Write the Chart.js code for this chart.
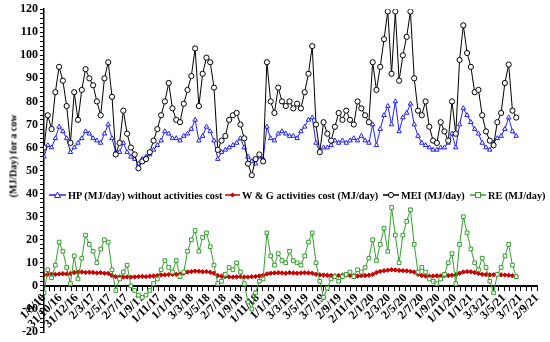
<!DOCTYPE html>
<html>
<head>
<meta charset="utf-8">
<script src="https://cdn.jsdelivr.net/npm/chart.js@4.4.1/dist/chart.umd.min.js"></script>
<style>
  body { margin: 0; background: #fff; }
  #wrap { position: relative; width: 550px; height: 342px; }
  .ytitle {
    position: absolute; left: 13px; top: 156px;
    transform: translate(-50%, -50%) rotate(-90deg);
    font: bold 10px "Liberation Serif", serif; white-space: nowrap; color: #000;
  }
  .leg {
    position: absolute; top: 189px; height: 12px;
    display: flex; align-items: center; gap: 2px;
    font: bold 10.3px "Liberation Serif", serif; white-space: nowrap; color: #000;
  }
  .leg svg { display: block; }
</style>
</head>
<body>
<div id="wrap">
  <canvas id="chart"></canvas>
  <div class="ytitle">(MJ/Day) for a cow</div>
  <div class="leg" style="left:49px">
    <svg width="17" height="8"><line x1="0" y1="4" x2="17" y2="4" stroke="#1f1fff" stroke-width="1.5"/><polygon points="8.5,1 11.5,6.5 5.5,6.5" fill="#fff" stroke="#1f1fff"/></svg>
    <span>HP (MJ/day) without activities cost</span>
  </div>
  <div class="leg" style="left:225px">
    <svg width="15" height="8"><line x1="0" y1="4" x2="15" y2="4" stroke="#cc0000" stroke-width="1.5"/><polygon points="7.5,1.5 10,4 7.5,6.5 5,4" fill="#cc0000"/></svg>
    <span>W &amp; G activities cost (MJ/day)</span>
  </div>
  <div class="leg" style="left:383px">
    <svg width="16" height="8"><line x1="0" y1="4" x2="16" y2="4" stroke="#000" stroke-width="1.5"/><circle cx="8" cy="4" r="2.6" fill="#fff" stroke="#000"/></svg>
    <span>MEI (MJ/day)</span>
  </div>
  <div class="leg" style="left:470px">
    <svg width="16" height="8"><line x1="0" y1="4" x2="16" y2="4" stroke="#33a02c" stroke-width="1.5"/><rect x="5.5" y="1.5" width="5" height="5" fill="#fff" stroke="#33a02c"/></svg>
    <span>RE (MJ/day)</span>
  </div>
</div>
<script>
// samples every 14 days starting 1/9/16
const STEP_DAYS = 14;

const hp = [56, 61, 60, 64, 69, 67, 64, 58, 60, 62,
  64, 67, 66, 64, 63, 62, 66, 70, 64, 58,
  58, 62, 58, 56, 55, 53, 55, 56, 57, 59,
  61, 63, 67, 66, 64, 64, 63, 65, 66, 68,
  72, 63, 65, 69, 67, 63, 55, 58, 59, 60,
  61, 62, 64, 60, 56, 54, 53, 56, 55, 69,
  64, 63, 66, 67, 66, 65, 65, 64, 67, 69,
  72, 73, 62, 58, 60, 60, 61, 63, 62, 63,
  62, 63, 64, 63, 65, 63, 62, 70, 61, 68,
  74, 78, 70, 80, 67, 73, 75, 79, 70, 65,
  62, 61, 60, 59, 59, 60, 60, 62, 66, 60,
  70, 77, 74, 71, 68, 66, 62, 60, 59, 62,
  64, 65, 68, 73, 67, 65];

const wg = [4.8, 5.0, 5.1, 5.0, 5.2, 5.3, 5.2, 5.4,
  5.8, 5.9, 6.0, 5.8, 5.9, 5.8, 5.6, 5.7, 5.5, 5.4,
  4.5, 4.0, 3.9, 3.8, 3.9, 3.8, 3.9, 4.0, 4.1, 4.0, 4.2, 4.3, 4.5,
  4.7, 4.8, 4.9, 5.0, 5.0, 5.2, 5.5,
  6.0, 6.2, 6.4, 6.3, 6.1, 6.2, 5.9, 5.5,
  4.5, 4.2, 4.0, 3.9, 3.8, 3.9, 4.0, 3.9, 3.8, 4.0, 4.1, 4.3, 4.6,
  5.2, 5.5, 5.6, 5.7, 5.6, 5.5, 5.7, 5.6, 5.5, 5.6, 5.7, 5.6, 5.5,
  5.0, 4.8, 4.7, 4.6, 4.5, 4.4, 4.5, 4.6, 4.7, 4.5, 4.4, 4.3, 4.4, 4.5, 4.6, 5.0,
  5.8, 6.3, 6.6, 6.8, 7.0, 6.9, 6.7, 6.6, 6.5, 6.3, 6.0,
  5.0, 4.5, 4.3, 4.2, 4.3, 4.4, 4.3, 4.4, 4.5, 4.6, 4.8,
  5.5, 6.0, 6.2, 6.1, 5.8, 5.4,
  5.0, 4.9, 4.8, 4.8, 4.9, 4.8, 4.7, 4.6, 4.4, 4.2];

const mei = [60, 74, 68, 84, 95, 89, 78, 62, 84, 72,
  85, 94, 90, 87, 80, 74, 90, 97, 82, 57,
  62, 76, 66, 60, 57, 51, 54, 55, 58, 63,
  68, 74, 80, 88, 77, 72, 71, 79, 85, 91,
  103, 78, 92, 99, 97, 86, 59, 63, 65, 72,
  74, 75, 70, 64, 53, 48, 55, 57, 54, 97,
  80, 75, 86, 80, 78, 80, 77, 79, 77, 84,
  92, 104, 70, 58, 71, 66, 63, 69, 75, 72,
  76, 72, 70, 80, 77, 74, 71, 97, 85, 95,
  107, 119, 92, 119, 89, 100, 108, 119, 90, 76,
  74, 80, 69, 63, 62, 71, 67, 63, 80, 66,
  98, 113, 101, 95, 84, 85, 74, 67, 63, 61,
  71, 75, 88, 96, 76, 73];

const re = [-3, 7, 3.5, 9, 19, 15, 8, 1, 13, 3,
  12, 22, 18, 15, 10, 16, 20, 19, 7, -2,
  3, 6, 9, 0, -2, -4, -5, -4, -2, 1,
  3, 7, 11, 8, 6, 11, 4, 6, 15, 20,
  24, 15, 21, 23, 17, 9, 1, 2, 5, 8,
  7, 10, 6, 1, -7, -10, -3, 2, 3, 23,
  13, 9, 14, 11, 10, 15, 11, 10, 9, 13,
  19, 23, 10, 2, -5, -1, 3, 4, 2, 4,
  5, 6, 4, 7, 6, 8, 12, 20, 11, 18,
  25, 15, 34, 22, 10, 22, 28, 33, 18, 6,
  8, 6, 3, 2, 1, 3, 5, 10, 14, 1,
  18, 30, 23, 16, 10, 7, 12, 8, 2, -3,
  5, 8, 13, 18, 9, 4];

const tickLabels = ["1/9/16", "31/10/16", "31/12/16", "2/3/17", "2/5/17", "2/7/17",
  "1/9/17", "1/11/17", "1/1/18", "3/3/18", "3/5/18", "2/7/18", "1/9/18", "1/11/18",
  "1/1/19", "3/3/19", "3/5/19", "3/7/19", "2/9/19", "2/11/19", "2/1/20", "2/3/20",
  "2/5/20", "2/7/20", "1/9/20", "1/11/20", "1/1/21", "3/3/21", "3/5/21", "3/7/21", "2/9/21"];

const DAY0 = Date.UTC(2016, 8, 1);
function dayOf(label) {
  const [d, m, y] = label.split("/").map(Number);
  return (Date.UTC(2000 + y, m - 1, d) - DAY0) / 86400000;
}
const tickDays = tickLabels.map(dayOf);
const xDays = hp.map((_, i) => i * STEP_DAYS);

const FONT = { family: "'Liberation Serif', serif", weight: "bold", size: 12 };

function series(label, data, color, style, radius, fill, order) {
  return {
    label, data, order,
    borderColor: color,
    borderWidth: 1,
    pointStyle: style,
    pointRadius: radius,
    pointBorderWidth: 1,
    pointBorderColor: color,
    pointBackgroundColor: fill,
    tension: 0,
  };
}

new Chart(document.getElementById("chart"), {
  type: "line",
  data: {
    labels: xDays,
    datasets: [
      series("HP (MJ/day) without activities cost", hp, "#1f1fff", "triangle", 2.6, "#fff", 3),
      series("W & G activities cost (MJ/day)", wg, "#cc0000", "rectRot", 2.2, "#cc0000", 2),
      series("MEI (MJ/day)", mei, "#000", "circle", 2.6, "#fff", 1),
      series("RE (MJ/day)", re, "#33a02c", "rect", 2.6, "#fff", 0),
    ],
  },
  options: {
    responsive: true,
    maintainAspectRatio: false,
    animation: false,
    layout: { padding: { left: 0, right: 13, top: 9, bottom: 10 } },
    plugins: { legend: { display: false }, tooltip: { enabled: false } },
    scales: {
      x: {
        type: "linear",
        position: { y: 0 },
        min: 0,
        max: tickDays[tickDays.length - 1],
        afterBuildTicks: (scale) => {
          const t = [];
          tickDays.forEach((d, k) => {
            t.push({ value: d });
            if (k < tickDays.length - 1) {
              const step = (tickDays[k + 1] - d) / 3;
              t.push({ value: d + step }, { value: d + 2 * step });
            }
          });
          scale.ticks = t;
        },
        ticks: {
          autoSkip: false,
          minRotation: 45,
          maxRotation: 45,
          padding: 1,
          color: "#000",
          font: FONT,
          callback: (v) => {
            const k = tickDays.indexOf(v);
            return k >= 0 ? tickLabels[k] : "";
          },
        },
        grid: { drawOnChartArea: false, tickLength: 4, tickColor: "#000" },
        border: { color: "#000", width: 2 },
      },
      y: {
        min: -20,
        max: 120,
        afterFit: (scale) => { scale.width = 44; },
        afterBuildTicks: (scale) => {
          const t = [];
          for (let v = -20; v <= 120; v += 2) t.push({ value: v });
          scale.ticks = t;
        },
        ticks: {
          autoSkip: false,
          padding: 2,
          color: "#000",
          font: FONT,
          callback: (v) => (v % 10 === 0 ? v : ""),
        },
        grid: { drawOnChartArea: false, tickLength: 4, tickColor: "#000" },
        border: { color: "#000", width: 1.5 },
      },
    },
  },
});
</script>
</body>
</html>
